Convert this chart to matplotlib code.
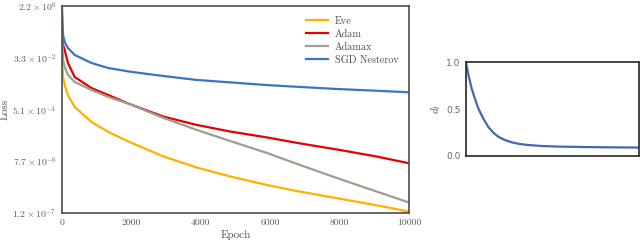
import matplotlib
matplotlib.use("Agg")
import matplotlib.pyplot as plt
import numpy as np

plt.rcParams["font.family"] = "serif"
plt.rcParams["font.serif"] = ["cmr10"]
plt.rcParams["mathtext.fontset"] = "cm"
plt.rcParams["axes.unicode_minus"] = False

# Loss curves (epoch -> loss)
epochs = [0, 30, 77, 170, 365, 850, 1330, 1960, 2920, 3880, 4840, 5900, 6810, 7915, 9020, 10000]
loss_eve = [4.2e-2, 7.1e-3, 3.7e-3, 1.66e-3, 6.3e-4, 1.88e-4, 8.4e-5, 3.65e-5, 1.16e-5,
            4.76e-6, 2.31e-6, 1.16e-6, 6.9e-7, 4.0e-7, 2.3e-7, 1.34e-7]
loss_adam = [2.1e-1, 9.4e-2, 6.3e-2, 2.2e-2, 7.1e-3, 2.9e-3, 1.66e-3, 7.9e-4, 2.9e-4,
             1.48e-4, 8.7e-5, 5.4e-5, 3.4e-5, 2.04e-5, 1.18e-5, 6.7e-6]
loss_adamax = [2.1e-1, 2.8e-2, 1.6e-2, 8.4e-3, 4.75e-3, 2.5e-3, 1.42e-3, 7.9e-4, 2.6e-4,
               9.9e-5, 4.05e-5, 1.54e-5, 6.1e-6, 2.04e-6, 7.1e-7, 2.8e-7]
loss_sgd = [2.0e0, 2.1e-1, 1.2e-1, 7.4e-2, 4.2e-2, 2.2e-2, 1.47e-2, 1.09e-2, 7.7e-3,
            5.6e-3, 4.6e-3, 3.7e-3, 3.2e-3, 2.7e-3, 2.35e-3, 2.07e-3]
names = ["Eve", "Adam", "Adamax", "SGD Nesterov"]
colors = ["#FFB000", "#E60000", "#A09C8E", "#3A75C4"]

y_lo, y_hi = 1.2e-7, 2.2e0
y_tick_labels = [r"$1.2\times10^{-7}$", r"$7.7\times10^{-6}$", r"$5.1\times10^{-4}$",
                 r"$3.3\times10^{-2}$", r"$2.2\times10^{0}$"]
x_ticks = [0, 2000, 4000, 6000, 8000, 10000]

# d_t curve (right panel)
d_epochs = [0, 150, 330, 520, 710, 1000, 1290, 1580, 1870, 2250, 2640, 3100, 3600, 4500, 5400, 7000, 8500, 10000]
d_values = [1.0, 0.86, 0.72, 0.61, 0.51, 0.40, 0.31, 0.25, 0.205, 0.17, 0.146, 0.128, 0.117, 0.105, 0.10, 0.095, 0.092, 0.09]

fig = plt.figure(figsize=(6.4, 2.42), dpi=100)
ax = fig.add_axes([0.0969, 0.1198, 0.5422, 0.8554])
for vals, name, c in zip([loss_eve, loss_adam, loss_adamax, loss_sgd], names, colors):
    ax.plot(epochs, vals, color=c, lw=1.6, label=name)
ax.set_yscale("log")
ax.set_ylim(y_lo, y_hi)
ax.set_xlim(0, 10000)
ax.set_yticks(np.geomspace(y_lo, y_hi, 5))
ax.set_yticklabels(y_tick_labels)
ax.minorticks_off()
ax.set_xticks(x_ticks)
ax.tick_params(length=0, labelsize=7, colors="0.35", pad=4)
for s in ax.spines.values():
    s.set_color("0.3")
    s.set_linewidth(1.2)
ax.set_xlabel("Epoch", fontsize=8, color="0.3", labelpad=2)
ax.set_ylabel("Loss", fontsize=8, color="0.3", labelpad=2)
leg = ax.legend(loc="upper right", frameon=False, fontsize=7.3, handlelength=2.2,
                handletextpad=0.7, labelspacing=0.35, borderaxespad=0.6)
for t in leg.get_texts():
    t.set_color("0.3")

ax2 = fig.add_axes([0.728, 0.3554, 0.2703, 0.388])
ax2.plot(d_epochs, d_values, color="#4268B0", lw=1.6)
ax2.set_xlim(0, 10000)
ax2.set_ylim(0, 1)
ax2.set_yticks([0.0, 0.5, 1.0])
ax2.set_yticklabels(["0.0", "0.5", "1.0"], fontfamily="DejaVu Sans")
ax2.set_xticks([])
ax2.tick_params(length=0, labelsize=6.5, colors="0.4", pad=4)
for s in ax2.spines.values():
    s.set_color("0.15")
    s.set_linewidth(1.2)
ax2.set_ylabel(r"$d_t$", fontsize=8, color="0.3", labelpad=2)

fig.savefig("out.png", dpi=100)
